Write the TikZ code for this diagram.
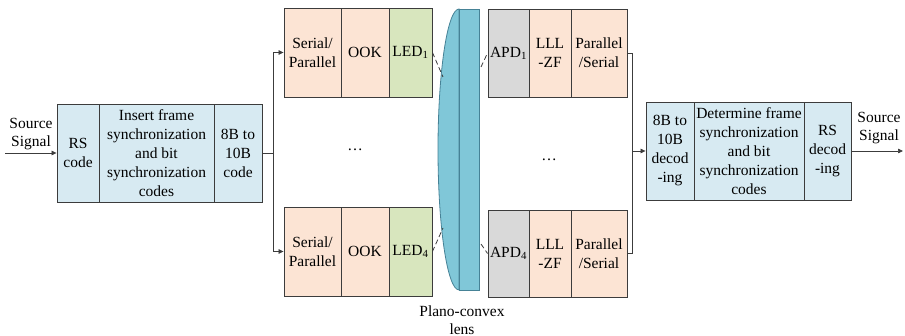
\documentclass[tikz,border=0pt]{standalone}
\usepackage{fontspec}
\setmainfont{Liberation Serif}
\usetikzlibrary{arrows.meta}

\definecolor{codeblue}{RGB}{215,234,242}
\definecolor{peach}{RGB}{252,228,212}
\definecolor{ledgreen}{RGB}{216,230,190}
\definecolor{apdgray}{RGB}{217,217,217}
\definecolor{lensblue}{RGB}{128,199,216}
\definecolor{lensedge}{RGB}{70,130,150}
\definecolor{edge}{RGB}{60,60,60}

\tikzset{
  blk/.style={draw=edge, line width=0.9pt, inner sep=0pt, align=center,
    font=\fontsize{15.5}{19}\selectfont},
  conn/.style={draw=edge, line width=0.7pt},
  arr/.style={conn, -{Triangle[length=5pt,width=4.5pt]}},
  beam/.style={draw=edge, line width=0.8pt, dash pattern=on 5pt off 3pt},
  lbl/.style={inner sep=1pt, align=center, font=\fontsize{15.5}{18}\selectfont},
}

% box from (x1,y1) to (x2,y2) in picture units
\newcommand{\boxat}[7]{%
  \node[blk, fill=#6, minimum width={(#4-#2)*1pt}, minimum height={(#5-#3)*1pt}]
    (#1) at ({(#2+#4)/2},{(#3+#5)/2}) {#7};}

\begin{document}
\begin{tikzpicture}[x=1pt, y=-1pt]
\useasboundingbox (0,0) rectangle (905,336);

% ---- encoder chain ----
\boxat{rs}{57}{104}{99}{202}{codeblue}{RS\\code}
\boxat{ins}{99}{104}{214}{202}{codeblue}{Insert frame\\synchronization\\and bit\\synchronization\\codes}
\boxat{enc}{214}{104}{262}{202}{codeblue}{8B to\\10B\\code}

% ---- transmitter branches ----
\boxat{sp1}{284}{8}{341}{97}{peach}{Serial/\\Parallel}
\boxat{ook1}{341}{8}{389}{97}{peach}{OOK}
\boxat{led1}{389}{8}{432}{97}{ledgreen}{LED\textsubscript{1}}
\boxat{sp4}{284}{207}{341}{296}{peach}{Serial/\\Parallel}
\boxat{ook4}{341}{207}{389}{296}{peach}{OOK}
\boxat{led4}{389}{207}{432}{296}{ledgreen}{LED\textsubscript{4}}

% ---- receiver branches ----
\boxat{apd1}{488}{9}{529}{97}{apdgray}{APD\textsubscript{1}}
\boxat{zf1}{529}{9}{571}{97}{peach}{LLL\\-ZF}
\boxat{ps1}{571}{9}{627}{97}{peach}{Parallel\\/Serial}
\boxat{apd4}{488}{210}{529}{297}{apdgray}{APD\textsubscript{4}}
\boxat{zf4}{529}{210}{571}{297}{peach}{LLL\\-ZF}
\boxat{ps4}{571}{210}{627}{297}{peach}{Parallel\\/Serial}

% ---- decoder chain ----
\boxat{dec}{646}{102}{694}{200}{codeblue}{8B to\\10B\\decod\\-ing}
\boxat{det}{694}{102}{804}{200}{codeblue}{Determine frame\\synchronization\\and bit\\synchronization\\codes}
\boxat{rsd}{804}{102}{851}{200}{codeblue}{RS\\decod\\-ing}

% ---- plano-convex lens ----
\draw[lensedge, line width=0.8pt, fill=lensblue]
  (459,9) arc[start angle=270, end angle=90, x radius=21, y radius=140.5] -- cycle;
\draw[lensedge, line width=0.8pt, fill=lensblue] (459,9) rectangle (479,290);
\node[lbl] (lenslbl) at (462,320) {Plano-convex\\lens};

% points where the light meets the lens
\coordinate (l1) at (443,77);
\coordinate (l2) at (481,67);
\coordinate (l3) at (443,228);
\coordinate (l4) at (481,244);
\draw[beam] (led1.east) -- (l1);
\draw[beam] (l2) -- (apd1.west);
\draw[beam] (led4.east) -- (l3);
\draw[beam] (l4) -- (apd4.west);

% ---- signal flow ----
\coordinate (src) at (5,153);
\coordinate (split) at (273,153);
\coordinate (merge) at (632,151);
\coordinate (sink) at (903,151);

\draw[arr] (src) -- (rs.west);
\node[lbl, anchor=south] (srcl) at (31,151) {Source\\Signal};
\draw[conn] (enc.east) -- (split);
\draw[arr] (split) |- (sp1.west);
\draw[arr] (split) |- (sp4.west);

\draw[conn] (ps1.east) -| (merge);
\draw[conn] (ps4.east) -| (merge);
\draw[arr] (merge) -- (dec.west);
\draw[arr] (rsd.east) -- (sink);
\node[lbl, anchor=south] (sinkl) at (879,145) {Source\\Signal};

% ---- elided branches ----
\node[lbl] (dotsl) at (355,150) {\dots};
\node[lbl] (dotsr) at (549,160) {\dots};
\end{tikzpicture}
\end{document}
